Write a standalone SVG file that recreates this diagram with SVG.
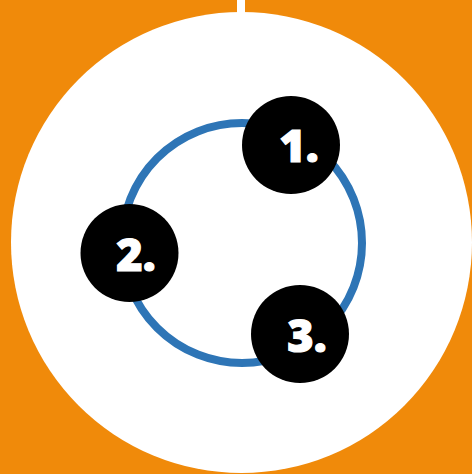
<svg xmlns="http://www.w3.org/2000/svg" width="472" height="474" viewBox="0 0 472 474">
<style>
.num{fill:#000}
.lbl{font-family:"Open Sans","Liberation Sans",sans-serif;font-weight:800;font-size:45px;fill:#fff;stroke:#fff;stroke-width:1.2;text-anchor:middle}
</style>
<rect width="472" height="474" fill="#F08A0A"/>
<rect x="237" y="0" width="8" height="20" fill="#fff"/>
<circle cx="241.5" cy="242.5" r="230.5" fill="#fff"/>
<g id="connectors">
<circle cx="242" cy="243" r="120" fill="none" stroke="#2E75B6" stroke-width="8"/>
</g>
<g id="node1"><circle class="num" cx="291" cy="145" r="49"/><text class="lbl" x="299" y="162">1.</text></g>
<g id="node2"><circle class="num" cx="129.5" cy="253" r="49"/><text class="lbl" x="136" y="271">2.</text></g>
<g id="node3"><circle class="num" cx="300" cy="334" r="49"/><text class="lbl" x="307" y="352">3.</text></g>
</svg>
